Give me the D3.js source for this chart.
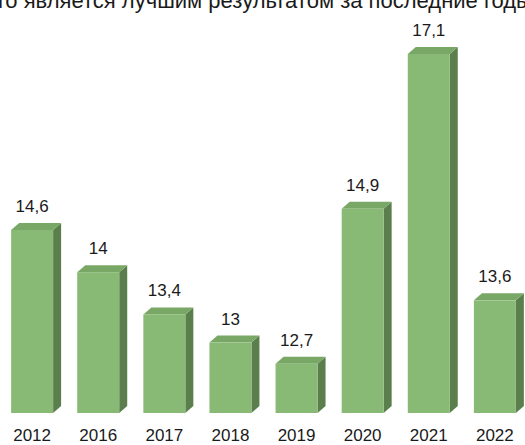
<!DOCTYPE html>
<html>
<head>
<meta charset="utf-8">
<script src="https://cdn.jsdelivr.net/npm/d3@7"></script>
<style>
    body { margin: 0; background: #fff; }
    svg { display: block; }
</style>
</head>
<body>
<div id="chart"></div>
<script>
var years = ["2012", "2016", "2017", "2018", "2019", "2020", "2021", "2022"];
var values = [14.6, 14, 13.4, 13, 12.7, 14.9, 17.1, 13.6];
var labels = ["14,6", "14", "13,4", "13", "12,7", "14,9", "17,1", "13,6"];
var title = "что является лучшим результатом за последние годы";

var width = 525;
var height = 445;
var depthX = 8;
var depthY = 7;

var svg = d3.select("#chart").append("svg")
    .attr("width", width)
    .attr("height", height)
    .style("font-family", "'Liberation Sans', Arial, sans-serif");

// x positions of the front faces
var x = d3.scaleBand()
    .domain(years)
    .range([-13, 540])
    .padding(0.365);

// axis does not start at zero
var y = d3.scaleLinear()
    .domain([12, 17.1])
    .range([413, 54]);

var data = years.map(function(d, i) {
    return { year: d, value: values[i], label: labels[i] };
});

var bar = svg.selectAll(".bar").data(data)
    .enter().append("g")
    .attr("class", "bar");

// side face
bar.append("path")
    .attr("fill", "#5b7f4c")
    .attr("d", function(d) {
        var x1 = x(d.year) + x.bandwidth(), t = y(d.value), b = y.range()[0];
        return "M" + x1 + "," + t + "L" + (x1 + depthX) + "," + (t - depthY) +
            "L" + (x1 + depthX) + "," + (b - depthY) + "L" + x1 + "," + b + "Z";
    });

// top face
bar.append("path")
    .attr("fill", "#79a866")
    .attr("d", function(d) {
        var x0 = x(d.year), x1 = x0 + x.bandwidth(), t = y(d.value);
        return "M" + x0 + "," + t + "L" + (x0 + depthX) + "," + (t - depthY) +
            "L" + (x1 + depthX) + "," + (t - depthY) + "L" + x1 + "," + t + "Z";
    });

// front face
bar.append("rect")
    .attr("fill", "#88b975")
    .attr("x", function(d) { return x(d.year); })
    .attr("y", function(d) { return y(d.value); })
    .attr("width", x.bandwidth())
    .attr("height", function(d) { return y.range()[0] - y(d.value); });

// value labels
svg.selectAll(".value").data(data)
    .enter().append("text")
    .attr("class", "value")
    .attr("x", function(d) { return x(d.year) + x.bandwidth() / 2; })
    .attr("y", function(d) { return y(d.value) - 18; })
    .attr("text-anchor", "middle")
    .attr("font-size", 17)
    .attr("fill", "#1a1a1a")
    .text(function(d) { return d.label; });

// year labels
svg.selectAll(".year").data(data)
    .enter().append("text")
    .attr("class", "year")
    .attr("x", function(d) { return x(d.year) + x.bandwidth() / 2; })
    .attr("y", 441)
    .attr("text-anchor", "middle")
    .attr("font-size", 17)
    .attr("fill", "#1a1a1a")
    .text(function(d) { return d.year; });

// title, cut off at the edges like in the source picture
svg.append("text")
    .attr("x", -16)
    .attr("y", 8)
    .attr("font-size", 22)
    .attr("fill", "#1a1a1a")
    .text(title);
</script>
</body>
</html>
